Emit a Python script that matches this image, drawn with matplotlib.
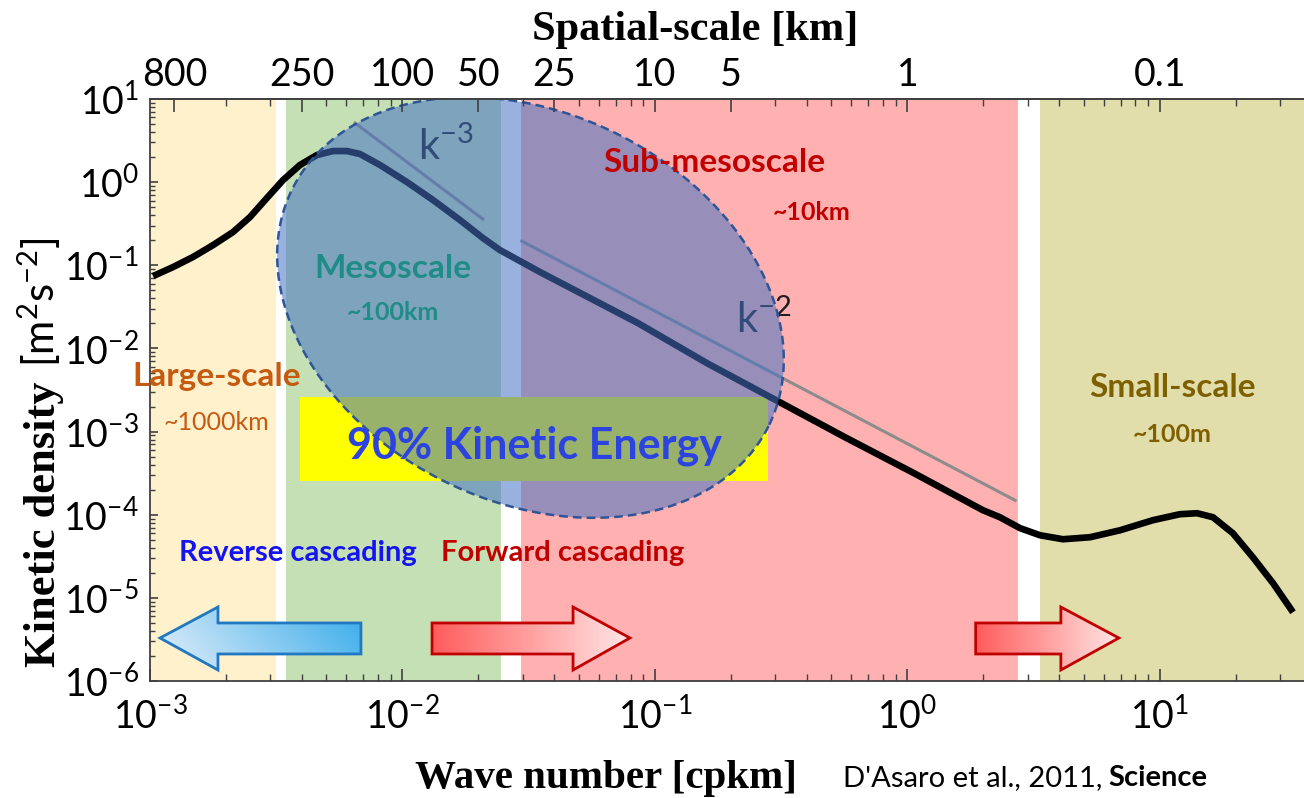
import numpy as np
import matplotlib
matplotlib.use("Agg")
import matplotlib.pyplot as plt
from matplotlib.patches import Polygon
from matplotlib.colors import LinearSegmentedColormap
from matplotlib.ticker import FixedLocator, LogLocator, NullFormatter

plt.rcParams['font.family'] = ['Lato', 'DejaVu Sans']
plt.rcParams['mathtext.fontset'] = 'custom'
plt.rcParams['mathtext.rm'] = 'Lato'
plt.rcParams['mathtext.it'] = 'Lato:italic'
plt.rcParams['mathtext.bf'] = 'Lato:bold'

# --- spectrum ---
wavenumber = [1.028e-3, 1.233e-3, 1.479e-3, 1.778e-3, 2.133e-3, 2.489e-3, 2.904e-3,
              3.365e-3, 3.926e-3, 4.581e-3, 5.309e-3, 6.026e-3, 6.792e-3, 8.147e-3,
              1.042e-2, 1.321e-2, 1.690e-2, 2.084e-2, 2.432e-2, 3.508e-2, 4.560e-2,
              8.570e-2, 0.1607, 0.3013, 0.5649, 1.062, 1.991, 2.323, 2.793, 3.350,
              4.130, 5.284, 6.950, 9.376, 11.99, 14.03, 16.22, 19.45, 23.33, 28.05, 33.65]
energy = [0.0741, 0.0951, 0.1256, 0.1750, 0.2512, 0.3802, 0.6442,
          1.059, 1.607, 2.118, 2.366, 2.366, 2.178, 1.607,
          1.002, 0.6095, 0.3499, 0.2123, 0.1524, 0.0828, 0.0547,
          2.014e-2, 6.65e-3, 2.388e-3, 8.57e-4, 3.155e-4, 1.132e-4, 9.33e-5, 6.89e-5, 5.66e-5,
          5.07e-5, 5.36e-5, 6.50e-5, 8.59e-5, 1.014e-4, 1.042e-4, 9.33e-5, 5.98e-5, 3.08e-5,
          1.500e-5, 6.71e-6]

# reference slopes
k3_x = [6.49e-3, 2.08e-2]
k3_y = [5.14, 0.360]
k2_x = [2.97e-2, 2.67]
k2_y = [0.195, 1.49e-4]

# scale bands (cpkm)
band_lo = [1e-3, 3.46e-3, 2.94e-2, 3.35]
band_hi = [3.16e-3, 2.46e-2, 2.74, 40]
band_colors = ['#FFF1CC', '#C5E0B4', '#FFB0B0', '#E2DEAC']

# 90% kinetic energy box
ke_x = [3.93e-3, 0.281]
ke_y = [2.53e-4, 2.6e-3]

# top axis
scale_km = [800, 250, 100, 50, 25, 10, 5, 1, 0.1]
scale_labels = ['800', '250', '100', '50', '25', '10', '5', '1', '0.1']

fig = plt.figure(figsize=(13.04, 7.98), dpi=100)
ax = fig.add_axes([150/1304, 117/798, 1154/1304, 582/798])
ax.set_xscale('log')
ax.set_yscale('log')
ax.set_xlim(1e-3, 37.2)
ax.set_ylim(1e-6, 10)
ax.set_autoscale_on(False)

for lo, hi, c in zip(band_lo, band_hi, band_colors):
    ax.axvspan(lo, hi, color=c, lw=0, zorder=0)

ax.fill_between(ke_x, [ke_y[0]]*2, [ke_y[1]]*2, color='#FFFF00', lw=0, zorder=1)

ax.plot(k3_x, k3_y, color='#8C8C8C', lw=2.2, zorder=3)
ax.plot(k2_x, k2_y, color='#8C8C8C', lw=2.2, zorder=3)
ax.plot(wavenumber, energy, color='black', lw=4.8, solid_joinstyle='round',
        solid_capstyle='butt', zorder=3)

ax.text(0.0115, 1.85, r'k$^{-3}$', fontsize=30, color='#1E1E1E', zorder=3)
ax.text(0.209, 0.0153, r'k$^{-2}$', fontsize=30, color='#1E1E1E', zorder=3)

# ellipse (axes fraction)
t = np.linspace(0, 2*np.pi, 400)
a_px, b_px, th = 266, 194, np.deg2rad(26.5)
dx = a_px*np.cos(t)*np.cos(th) - b_px*np.sin(t)*np.sin(th)
dy = a_px*np.cos(t)*np.sin(th) + b_px*np.sin(t)*np.cos(th)
ell = Polygon(np.column_stack([0.3297 + dx/1154, 0.6418 - dy/582]), closed=True,
              transform=ax.transAxes, facecolor=(0.267, 0.447, 0.769, 0.55),
              edgecolor='#2F5597', lw=1.8, linestyle=(0, (3.5, 2)), zorder=5)
ax.add_patch(ell)


def grad_arrow(x_tail, x_base, x_tip, c_left, c_right, edge, tilt=0.0):
    yb0, yb1, yh0, yh1, ym = 0.0464, 0.0997, 0.0189, 0.1271, 0.0739
    verts = [(x_tail, yb0), (x_base, yb0), (x_base, yh0), (x_tip, ym),
             (x_base, yh1), (x_base, yb1), (x_tail, yb1)]
    poly = Polygon(verts, closed=True, transform=ax.transAxes, facecolor='none',
                   edgecolor=edge, lw=2, zorder=7)
    ax.add_patch(poly)
    xx, yy = np.meshgrid(np.linspace(0, 1, 200), np.linspace(0, 1, 50))
    g = (1 - tilt)*xx + tilt*yy
    cmap = LinearSegmentedColormap.from_list('arr', [c_left, c_right])
    im = ax.imshow(g, cmap=cmap, origin='lower', aspect='auto', zorder=6,
                   extent=(min(x_tail, x_tip), max(x_tail, x_tip), yh0, yh1),
                   transform=ax.transAxes, interpolation='bilinear')
    im.set_clip_path(poly)


grad_arrow(0.1828, 0.0589, 0.00867, '#E3EEF9', '#3AADEB', '#1F78C1', tilt=0.2)
grad_arrow(0.2444, 0.3666, 0.4159, '#FF5C5C', '#FFE6E6', '#C00000')
grad_arrow(0.7155, 0.7893, 0.8396, '#FF5C5C', '#FFE6E6', '#C00000')

# region labels
lab = dict(ha='center', va='center', zorder=8)
ax.text(0.171, 1.70, 'Sub-mesoscale', fontsize=24, weight='bold', color='#C00000', **lab)
ax.text(0.419, 0.436, '~10km', fontsize=18, weight='bold', color='#C00000', **lab)
ax.text(9.16e-3, 0.0925, 'Mesoscale', fontsize=24, weight='bold', color='#208C88', **lab)
ax.text(9.2e-3, 0.0274, '~100km', fontsize=18, weight='bold', color='#208C88', **lab)
ax.text(1.84e-3, 4.64e-3, 'Large-scale', fontsize=24, weight='bold', color='#C55A11', **lab)
ax.text(1.83e-3, 1.30e-3, '~1000km', fontsize=18, color='#C55A11', **lab)
ax.text(11.2, 3.42e-3, 'Small-scale', fontsize=24, weight='bold', color='#7F6000', **lab)
ax.text(11.2, 9.3e-4, '~100m', fontsize=18, weight='bold', color='#7F6000', **lab)
ax.text(0.0332, 6.67e-4, '90% Kinetic Energy', fontsize=31, weight='bold', color='#2D43E1', **lab)
ax.text(3.86e-3, 3.44e-5, 'Reverse cascading', fontsize=21, weight='bold', color='#1414F0', **lab)
ax.text(0.0429, 3.44e-5, 'Forward cascading', fontsize=21, weight='bold', color='#C00000', **lab)

# axes styling
for s in ['left', 'bottom', 'top']:
    ax.spines[s].set_color('#404040')
    ax.spines[s].set_linewidth(1.3)
ax.spines['right'].set_visible(False)
ax.xaxis.set_major_locator(LogLocator(base=10, numticks=20))
ax.xaxis.set_minor_locator(LogLocator(base=10, subs=np.arange(2, 10), numticks=20))
ax.yaxis.set_major_locator(LogLocator(base=10, numticks=20))
ax.yaxis.set_minor_locator(LogLocator(base=10, subs=np.arange(2, 10), numticks=20))
ax.xaxis.set_minor_formatter(NullFormatter())
ax.yaxis.set_minor_formatter(NullFormatter())
ax.tick_params(axis='x', which='major', direction='in', length=9, width=1.2,
               color='#404040', labelsize=27, pad=12)
ax.tick_params(axis='x', which='minor', direction='in', length=5, width=1.0, color='#404040')
ax.tick_params(axis='y', which='major', direction='in', length=6, width=1.2,
               color='#404040', labelsize=27, pad=8)
ax.tick_params(axis='y', which='minor', direction='in', length=3.5, width=1.0, color='#404040')

ax2 = ax.twiny()
ax2.set_xscale('log')
ax2.set_xlim(ax.get_xlim())
ax2.xaxis.set_major_locator(FixedLocator([1/s for s in scale_km]))
ax2.set_xticklabels(scale_labels)
ax2.xaxis.set_minor_locator(LogLocator(base=10, subs=np.arange(2, 10), numticks=20))
ax2.xaxis.set_minor_formatter(NullFormatter())
ax2.tick_params(axis='x', which='major', direction='in', length=9, width=1.2,
                color='#404040', labelsize=27, pad=4)
ax2.tick_params(axis='x', which='minor', direction='in', length=5, width=1.0, color='#404040')
for s in ['left', 'right', 'bottom']:
    ax2.spines[s].set_visible(False)
ax2.spines['top'].set_color('#404040')
ax2.spines['top'].set_linewidth(1.3)

# axis titles
W, H = 1304, 798
fig.text(695/W, 1 - 30/H, 'Spatial-scale [km]', family='Liberation Serif', weight='bold',
         fontsize=30.5, ha='center', va='center')
fig.text(606/W, 1 - 788/H, 'Wave number [cpkm]', family='Liberation Serif', weight='bold',
         fontsize=29.5, ha='center', va='baseline')
fig.text(55/W, 1 - 667/H, 'Kinetic density', family='Liberation Serif', weight='bold',
         fontsize=32, rotation=90, rotation_mode='anchor', ha='left', va='baseline')
fig.text(55/W, 1 - 367/H, r'[m$^2$s$^{-2}$]', fontsize=30, rotation=90,
         rotation_mode='anchor', ha='left', va='baseline')
fig.text(843/W, 1 - 786/H, "D'Asaro et al., 2011, ", fontsize=21, ha='left', va='baseline')
fig.text(1108/W, 1 - 786/H, 'Science', fontsize=21, weight='bold', ha='left', va='baseline')

fig.savefig('out.png', dpi=100)
